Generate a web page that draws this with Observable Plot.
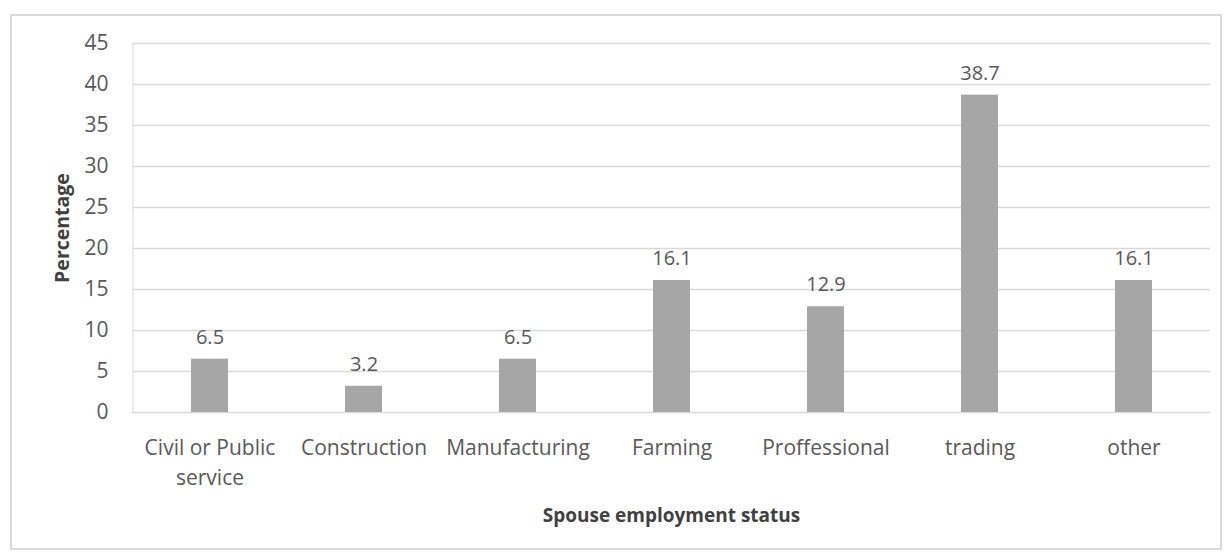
<!DOCTYPE html>
<html>
<head>
<meta charset="utf-8">
<script src="https://cdn.jsdelivr.net/npm/d3@7"></script>
<script src="https://cdn.jsdelivr.net/npm/@observablehq/plot@0.6"></script>
<style>
  html, body { margin: 0; padding: 0; background: #fff; }
  #wrap { position: relative; width: 1228px; height: 555px; }
  #frame { position: absolute; left: 10px; top: 14px; width: 1208px; height: 532px; border: 2px solid #d9d9d9; pointer-events: none; }
  #chart { position: absolute; left: 0; top: 0; }
</style>
</head>
<body>
<div id="wrap"><div id="chart"></div><div id="frame"></div></div>
<script>
const categories = ["Civil or Public\nservice", "Construction", "Manufacturing", "Farming", "Proffessional", "trading", "other"];
const values = [6.5, 3.2, 6.5, 16.1, 12.9, 38.7, 16.1];
const yTicks = [0, 5, 10, 15, 20, 25, 30, 35, 40, 45];
const xTitle = "Spouse employment status";
const yTitle = "Percentage";

const data = categories.map((c, i) => ({category: c, value: values[i]}));
const font = "'Open Sans', 'Liberation Sans', sans-serif";

const chart = Plot.plot({
  width: 1228,
  height: 555,
  marginLeft: 132,
  marginRight: 18,
  marginTop: 43,
  marginBottom: 143,
  style: {fontFamily: font, background: "transparent", color: "#595959"},
  x: {domain: categories, paddingInner: 0.76, paddingOuter: 0.38, label: null},
  y: {domain: [0, 45], label: null},
  marks: [
    Plot.gridY(yTicks, {stroke: "#d9d9d9", strokeOpacity: 1, strokeWidth: 1.5}),
    Plot.ruleX([0], {x: () => categories[0], dx: -77, y1: 0, y2: 45, stroke: "#e4e4e4", strokeWidth: 1.5}),
    Plot.barY(data, {x: "category", y: "value", fill: "#a6a6a6"}),
    Plot.text(data, {x: "category", y: "value", text: d => d.value.toFixed(1), dy: -22, fontSize: 20, fill: "#595959"}),
    Plot.axisY(yTicks, {tickSize: 0, tickPadding: 24, fontSize: 21, fill: "#595959", label: null}),
    Plot.axisX({tickSize: 0, tickPadding: 22, fontSize: 21, lineHeight: 1.4, fill: "#595959", label: null}),
    Plot.text([xTitle], {frameAnchor: "bottom", dy: 103, lineAnchor: "middle", fontSize: 19, fontWeight: "bold", fill: "#404040"}),
    Plot.text([yTitle], {frameAnchor: "left", dx: -70, rotate: -90, textAnchor: "middle", lineAnchor: "middle", fontSize: 19.5, fontWeight: "bold", fill: "#404040"})
  ]
});
document.getElementById("chart").appendChild(chart);
</script>
</body>
</html>
